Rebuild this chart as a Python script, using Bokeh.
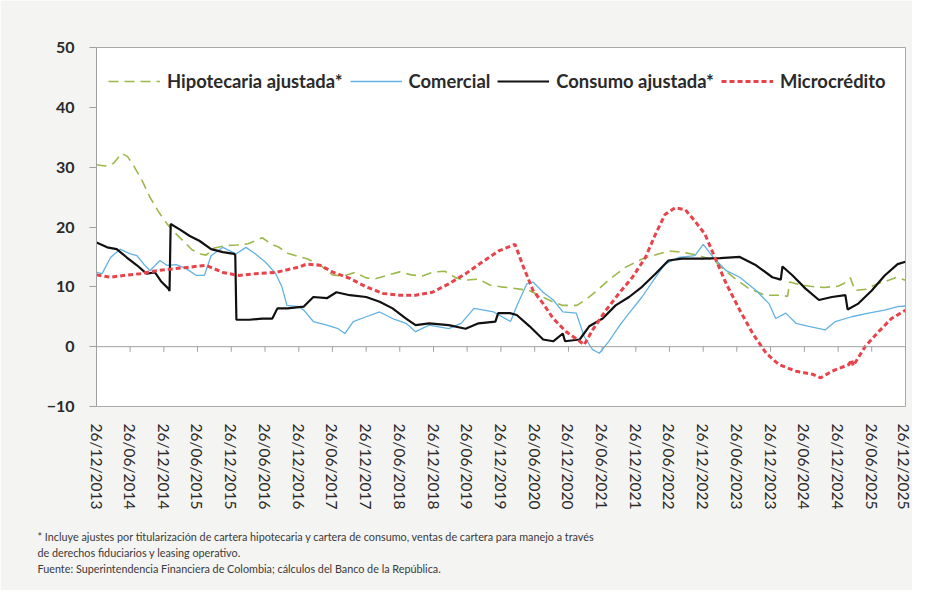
import datetime as dt
from bokeh.plotting import figure
from bokeh.models import (Range1d, FixedTicker, Span, Legend, LegendItem, Title,
                          DatetimeTickFormatter)
from bokeh.embed import file_html
from bokeh.resources import INLINE

# ---------------- data ----------------
# x positions are months elapsed since 26/12/2013
start_date = "26/12/2013"

tick_labels = ["26/12/2013", "26/06/2014", "26/12/2014", "26/06/2015", "26/12/2015",
               "26/06/2016", "26/12/2016", "26/06/2017", "26/12/2017", "26/06/2018",
               "26/12/2018", "26/06/2019", "26/12/2019", "26/06/2020", "26/12/2020",
               "26/06/2021", "26/12/2021", "26/06/2022", "26/12/2022", "26/06/2023",
               "26/12/2023", "26/06/2024", "26/12/2024", "26/06/2025", "26/12/2025"]

y_ticks = [-10, 0, 10, 20, 30, 40, 50]

hipo_m = [0, 1.5, 3, 4.5, 5.5, 6.5, 8, 9.5, 11, 12.5, 14, 15.5, 17, 18.5, 19.5, 21, 23, 25,
          27, 29.5, 31, 32.5, 34, 35.5, 37.5, 40, 42, 44, 46, 48, 49.5, 52, 54, 56, 58, 60,
          62, 64, 65.5, 68, 70, 72, 74, 77, 79, 81, 83, 85.5, 87, 88.5, 91, 94, 97, 100,
          102, 104, 106, 108, 110, 112, 113.5, 116, 119, 122, 123, 123.4, 125, 127, 129.5,
          132, 133.5, 134.2, 135, 137, 139, 141, 142.5, 144]
hipo_v = [30.4, 30.2, 30.6, 32.3, 31.8, 30.4, 28, 25, 22.6, 20.6, 19, 17.6, 16.2, 15.5, 15.3,
          16.5, 16.9, 17, 17.2, 18.2, 17.2, 16.6, 15.6, 15.2, 14.7, 13.5, 12, 11.8, 12.4, 11.5,
          11.3, 12, 12.5, 12, 11.8, 12.5, 12.6, 11.5, 11.1, 11.3, 10.3, 10, 9.8, 9.4, 8.5, 7.6,
          6.9, 6.9, 7.8, 8.9, 11, 13.2, 14.6, 15.5, 16, 15.8, 15.5, 15, 14.4, 12.6, 11.5, 9.8,
          8.6, 8.6, 8.4, 10.8, 10.4, 10.1, 9.9, 10.1, 10.8, 11.5, 9.4, 9.6, 10.5, 11.1, 11.6, 11.1]

com_m = [0, 1, 2.5, 4.2, 6, 7.2, 8.6, 9.5, 11.3, 12.5, 14.2, 16, 17.8, 19.2, 20.4, 22.5, 24.8,
         26.6, 28.3, 30.1, 31.9, 33, 33.9, 36, 36.9, 38.6, 41, 43, 44.2, 45.7, 48, 50.4, 52.7,
         55.1, 56.8, 59.2, 62.7, 64.9, 67.2, 70.7, 73.7, 75, 76.6, 77.7, 79.5, 81.3, 83, 85.4,
         86.8, 88.3, 89.5, 91.2, 93, 94.8, 97.1, 99.5, 101.2, 103.6, 106.5, 108, 109.8, 112.1,
         114.5, 117.4, 119.7, 120.9, 122.7, 124.5, 126.8, 129.7, 131.5, 134.4, 137.4, 140.3,
         142.6, 144]
com_v = [12.4, 12.2, 14.9, 16.3, 15.5, 15.2, 13.6, 12.7, 14.4, 13.6, 13.7, 13, 11.9, 11.9,
         15.2, 16.6, 15.5, 16.6, 15.5, 14.1, 12.2, 10, 6.9, 6.7, 6.1, 4.2, 3.6, 3, 2.2, 4.2, 5,
         5.8, 4.7, 3.9, 2.5, 3.6, 3, 3.9, 6.4, 5.8, 4.2, 7.2, 10.5, 10.8, 9.1, 7.8, 5.8, 5.6,
         1.7, -0.5, -1.1, 0.9, 3.4, 5.6, 8.3, 11.6, 13.8, 14.9, 15.2, 17.1, 14.9, 12.7, 11.6,
         9.4, 7.2, 4.7, 5.6, 3.9, 3.4, 2.8, 4.2, 5, 5.6, 6.1, 6.7, 6.8]

cons_m = [0, 1.9, 3.6, 5.4, 7.2, 8.9, 10.4, 11.6, 12.8, 13.0, 13.2, 14.8, 16.6, 18.3, 20.4,
          22.5, 24.5, 24.7, 24.9, 27.2, 29.5, 31.3, 32.2, 34, 36.9, 38.6, 41, 42.7, 45.1, 48,
          50.4, 52.7, 55.1, 56.8, 59.2, 62.7, 65.7, 68, 71, 71.5, 73.6, 74.8, 77.1, 79.5,
          81.3, 83, 83.4, 86, 87.7, 90.1, 92.4, 94.8, 97.1, 99.5, 101.8, 104.2, 108, 111,
          114.5, 117.4, 120.3, 121.8, 122.1, 123.9, 126.2, 128.6, 130.9, 133.3, 133.7, 135.6,
          138, 140.3, 142.6, 144]
cons_v = [17.4, 16.6, 16.3, 14.9, 13.6, 12.2, 12.4, 10.8, 9.7, 9.3, 20.5, 19.6, 18.5, 17.7,
          16.3, 15.8, 15.5, 15.3, 4.5, 4.5, 4.7, 4.7, 6.4, 6.4, 6.7, 8.3, 8.1, 9.1, 8.6, 8.3,
          7.5, 6.4, 4.7, 3.6, 3.9, 3.6, 3, 3.9, 4.2, 5.6, 5.6, 5.3, 3.4, 1.2, 0.9, 2.2, 0.9,
          1.2, 3.4, 4.7, 6.9, 8.3, 10, 12.2, 14.4, 14.7, 14.7, 14.8, 15.0, 13.6, 11.6, 11.2,
          13.4, 11.9, 9.7, 7.8, 8.3, 8.6, 6.2, 7.2, 9.4, 11.9, 13.8, 14.2]

micro_m = [0, 2.5, 4.8, 7.8, 10.7, 13.6, 16.6, 19.5, 22.5, 25.4, 28.3, 31.9, 36, 37.4, 39.8,
           42.2, 45.1, 48, 51, 53.9, 56.8, 59.8, 62.7, 65.7, 68.6, 71.6, 74.5, 76, 77.7, 79.5,
           81.3, 83.6, 86, 86.8, 88.3, 90.7, 93, 95.4, 97.7, 99.5, 101.2, 103, 104.8, 106.5,
           108.3, 109.8, 112.1, 114.5, 116.8, 119.2, 121.5, 124.5, 127.4, 128.9, 130.9, 133.9,
           134.4, 134.7, 136.8, 139.2, 141.5, 144]
micro_v = [12, 11.6, 11.9, 12.2, 12.7, 13, 13.3, 13.6, 12.4, 11.9, 12.2, 12.4, 13.3, 13.8,
           13.6, 12.4, 11.4, 10, 8.9, 8.6, 8.6, 9.1, 10.5, 12.2, 14.1, 16, 17.1, 13.3, 9.4,
           7.2, 4.7, 2.5, 0.9, 0.3, 2.8, 6.1, 8.9, 11.6, 14.9, 18.8, 22.1, 23.2, 22.9, 21,
           18.8, 15.5, 10.5, 6.1, 2.2, -1.1, -3, -4.1, -4.6, -5.2, -4.1, -3, -2.2, -3.2, 0,
           2.5, 4.7, 6.1]

series_names = ["Hipotecaria ajustada*", "Comercial", "Consumo ajustada*", "Microcrédito"]

footnotes = [
    "* Incluye ajustes por titularización de cartera hipotecaria y cartera de consumo, ventas de cartera para manejo a través",
    "de derechos fiduciarios y leasing operativo.",
    "Fuente: Superintendencia Financiera de Colombia; cálculos del Banco de la República.",
]

# ---------------- helpers ----------------
EPOCH = dt.datetime(1970, 1, 1)
t0 = dt.datetime.strptime(start_date, "%d/%m/%Y")


def to_dates(months):
    return [t0 + dt.timedelta(days=m * 30.4375) for m in months]


def ms(d):
    return (d - EPOCH).total_seconds() * 1000.0


tick_dates = [dt.datetime.strptime(s, "%d/%m/%Y") for s in tick_labels]
tick_ms = [ms(d) for d in tick_dates]

FONT = "Lato"
AXIS_GRAY = "#a0a0a0"
TEXT = "#2a2a2a"

p = figure(width=912, height=590, x_axis_type="datetime",
           x_range=Range1d(tick_ms[0], tick_ms[-1]), y_range=Range1d(y_ticks[0], y_ticks[-1]),
           output_backend="svg", toolbar_location=None,
           min_border_left=96, min_border_right=7, min_border_top=47, min_border_bottom=184)

p.background_fill_color = "white"
p.border_fill_color = "#f4f4f2"
p.outline_line_color = "#a9a9a9"
p.outline_line_width = 1
p.xgrid.grid_line_color = None
p.ygrid.grid_line_color = None

# y axis
p.yaxis.ticker = FixedTicker(ticks=y_ticks)
p.yaxis.axis_line_color = AXIS_GRAY
p.yaxis.major_tick_line_color = AXIS_GRAY
p.yaxis.major_tick_out = 7
p.yaxis.major_tick_in = 0
p.yaxis.minor_tick_line_color = None
p.yaxis.major_label_standoff = 15
p.yaxis.major_label_text_font = FONT
p.yaxis.major_label_text_font_size = "16px"
p.yaxis.major_label_text_font_style = "bold"
p.yaxis.major_label_text_color = TEXT

# x axis (labels at the bottom, axis line at zero)
p.xaxis.ticker = FixedTicker(ticks=tick_ms)
fmt = "%d/%m/%Y"
p.xaxis.formatter = DatetimeTickFormatter(days=fmt, months=fmt, years=fmt, hours=fmt,
                                          minutes=fmt, seconds=fmt, milliseconds=fmt,
                                          minsec=fmt, hourmin=fmt)
p.xaxis.major_label_orientation = "vertical"
p.xaxis.axis_line_color = None
p.xaxis.major_tick_line_color = None
p.xaxis.minor_tick_line_color = None
p.xaxis.major_label_standoff = 11
p.xaxis.major_label_text_font = FONT
p.xaxis.major_label_text_font_size = "15.5px"
p.xaxis.major_label_text_font_style = "normal"
p.xaxis.major_label_text_color = TEXT

p.add_layout(Span(location=0, dimension="width", line_color=AXIS_GRAY, line_width=1))
p.segment(x0=tick_dates, y0=[0] * len(tick_dates), x1=tick_dates,
          y1=[-0.85] * len(tick_dates), line_color=AXIS_GRAY, line_width=1)

# series
r_hipo = p.line(to_dates(hipo_m), hipo_v, line_color="#9cb84a", line_width=1.6,
                line_dash="10 6")
r_com = p.line(to_dates(com_m), com_v, line_color="#62b2e2", line_width=1.3)
r_cons = p.line(to_dates(cons_m), cons_v, line_color="#111111", line_width=2.2)
r_micro = p.line(to_dates(micro_m), micro_v, line_color="#e8434b", line_width=3,
                 line_dash="5 3")

legend = Legend(items=[LegendItem(label=n, renderers=[r]) for n, r in
                       zip(series_names, [r_hipo, r_com, r_cons, r_micro])],
                orientation="horizontal", location=(12, 314))
legend.border_line_color = None
legend.background_fill_alpha = 0
legend.label_text_font = FONT
legend.label_text_font_size = "18.4px"
legend.label_text_font_style = "bold"
legend.label_text_color = TEXT
legend.glyph_width = 52
legend.label_standoff = 7
legend.spacing = 7
legend.margin = 0
legend.padding = 10
p.add_layout(legend)

# spacer between the tick labels and the footnotes
p.add_layout(Title(text=" ", text_font_size="1px", standoff=12), "below")
for txt in footnotes:
    p.add_layout(Title(text=txt, align="left", offset=-59, text_font=FONT,
                       text_font_size="10.8px", text_font_style="normal",
                       text_color="#3a3a3a", standoff=1), "below")

open("out.html", "w").write(file_html(p, INLINE))
